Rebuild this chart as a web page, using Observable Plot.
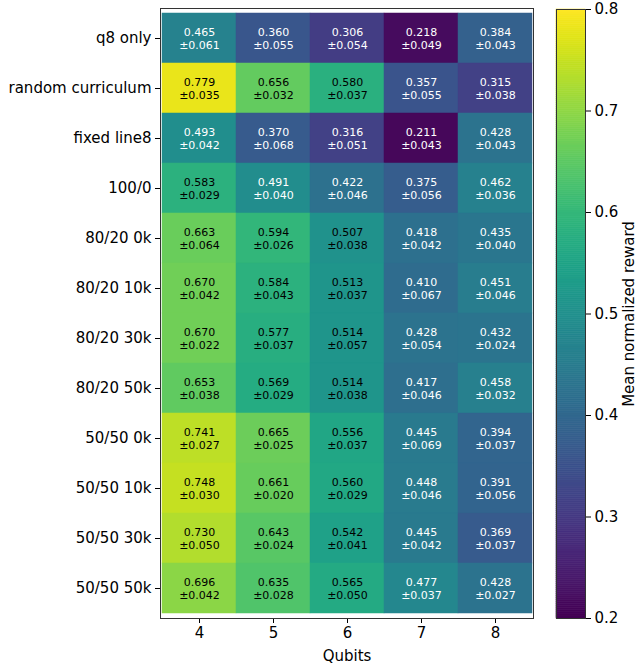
<!DOCTYPE html>
<html>
<head>
<meta charset="utf-8">
<script src="https://cdn.jsdelivr.net/npm/d3@7"></script>
<script src="https://cdn.jsdelivr.net/npm/@observablehq/plot@0.6"></script>
<style>
  html, body { margin: 0; padding: 0; background: #fff; }
  #wrap { position: relative; width: 639px; height: 664px; font-family: "DejaVu Sans", sans-serif; }
  #wrap svg { position: absolute; top: 0; }
</style>
</head>
<body>
<div id="wrap"></div>
<script>
const rows = ["q8 only", "random curriculum", "fixed line8", "100/0", "80/20 0k", "80/20 10k", "80/20 30k", "80/20 50k", "50/50 0k", "50/50 10k", "50/50 30k", "50/50 50k"];
const qubits = [4, 5, 6, 7, 8];
const means = [
  [0.465, 0.360, 0.306, 0.218, 0.384],
  [0.779, 0.656, 0.580, 0.357, 0.315],
  [0.493, 0.370, 0.316, 0.211, 0.428],
  [0.583, 0.491, 0.422, 0.375, 0.462],
  [0.663, 0.594, 0.507, 0.418, 0.435],
  [0.670, 0.584, 0.513, 0.410, 0.451],
  [0.670, 0.577, 0.514, 0.428, 0.432],
  [0.653, 0.569, 0.514, 0.417, 0.458],
  [0.741, 0.665, 0.556, 0.445, 0.394],
  [0.748, 0.661, 0.560, 0.448, 0.391],
  [0.730, 0.643, 0.542, 0.445, 0.369],
  [0.696, 0.635, 0.565, 0.477, 0.428]
];
const stds = [
  [0.061, 0.055, 0.054, 0.049, 0.043],
  [0.035, 0.032, 0.037, 0.055, 0.038],
  [0.042, 0.068, 0.051, 0.043, 0.043],
  [0.029, 0.040, 0.046, 0.056, 0.036],
  [0.064, 0.026, 0.038, 0.042, 0.040],
  [0.042, 0.043, 0.037, 0.067, 0.046],
  [0.022, 0.037, 0.057, 0.054, 0.024],
  [0.038, 0.029, 0.038, 0.046, 0.032],
  [0.027, 0.025, 0.037, 0.069, 0.037],
  [0.030, 0.020, 0.029, 0.046, 0.056],
  [0.050, 0.024, 0.041, 0.042, 0.037],
  [0.042, 0.028, 0.050, 0.037, 0.027]
];
const colorDomain = [0.2, 0.8];
const colorTicks = [0.2, 0.3, 0.4, 0.5, 0.6, 0.7, 0.8];

const cells = [];
rows.forEach((r, i) => qubits.forEach((q, j) => cells.push({row: r, q: String(q), mean: means[i][j], std: stds[i][j]})));

const font = "DejaVu Sans";
const main = Plot.plot({
  width: 639,
  height: 664,
  marginLeft: 160,
  marginRight: 106,
  marginTop: 8,
  marginBottom: 46,
  style: {fontFamily: font, fontSize: "15px", background: "transparent", color: "#000"},
  x: {domain: qubits.map(String), padding: 0, label: "Qubits", labelAnchor: "center", labelArrow: "none", labelOffset: 42, tickSize: 5, tickPadding: 4},
  y: {domain: rows, padding: 0, label: null, tickSize: 5, tickPadding: 4},
  color: {type: "linear", scheme: "viridis", domain: colorDomain},
  marks: [
    Plot.cell(cells, {x: "q", y: "row", fill: "mean", inset: 0, stroke: "mean", strokeWidth: 0.5}),
    Plot.text(cells, {
      x: "q", y: "row",
      text: d => `${d.mean.toFixed(3)}\n±${d.std.toFixed(3)}`,
      fill: d => d.mean > 0.5 ? "black" : "white",
      fontSize: 11,
      lineHeight: 1.18
    }),
    Plot.frame({stroke: "#333", strokeWidth: 1})
  ]
});
main.style.left = "0px";
document.getElementById("wrap").appendChild(main);

const steps = d3.range(colorDomain[0], colorDomain[1], 0.002);
const bar = Plot.plot({
  width: 109,
  height: 664,
  marginLeft: 26,
  marginRight: 54,
  marginTop: 9,
  marginBottom: 46,
  style: {fontFamily: font, fontSize: "15px", background: "transparent", color: "#000"},
  x: {domain: [0, 1], axis: null},
  y: {domain: colorDomain, ticks: colorTicks, tickFormat: d3.format(".1f"), axis: "right", tickSize: 5, tickPadding: 4,
      label: "Mean normalized reward", labelAnchor: "center", labelArrow: "none", labelOffset: 48},
  color: {type: "linear", scheme: "viridis", domain: colorDomain},
  marks: [
    Plot.rect(steps, {x1: 0, x2: 1, y1: d => d, y2: d => Math.min(d + 0.002, colorDomain[1]), fill: d => d, stroke: d => d, strokeWidth: 0.6}),
    Plot.frame({stroke: "#333", strokeWidth: 1})
  ]
});
bar.style.left = "530px";
document.getElementById("wrap").appendChild(bar);
</script>
</body>
</html>
